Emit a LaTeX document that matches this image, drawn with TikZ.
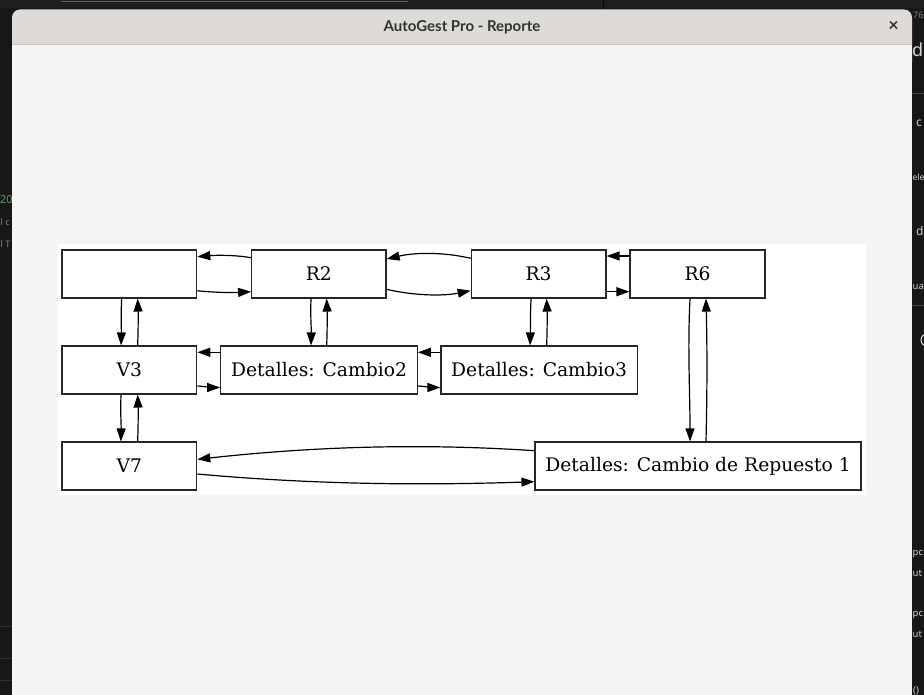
\documentclass[tikz,border=0pt]{standalone}
\usepackage{fontspec}
\setmainfont{DejaVu Serif}
\newfontfamily\uifont{Noto Sans}
\newfontfamily\titlefont{Lato}
\usetikzlibrary{arrows.meta,calc}
\definecolor{desk}{HTML}{171717}
\definecolor{deskbar}{HTML}{1E1E1E}
\definecolor{titlebar}{HTML}{DEDBD7}
\definecolor{winbody}{HTML}{F6F5F4}
\definecolor{sepline}{HTML}{C6C2BD}
\definecolor{titletext}{HTML}{2E3436}
\definecolor{fraggray}{HTML}{CFCFCF}
\definecolor{fraggreen}{HTML}{5A9E6F}
\definecolor{tabblue}{HTML}{1C71D8}
\definecolor{boxline}{HTML}{262626}
\tikzset{
  gvbox/.style={draw=boxline, line width=1.2pt, rectangle, fill=white, minimum height=48pt, inner sep=0pt, font=\fontsize{18.7}{22}\selectfont},
  gvedge/.style={line width=1.2pt, -{Triangle[length=13pt,width=9pt]}},
  frag/.style={inner sep=0pt, anchor=base west, text=fraggray, font=\uifont\fontsize{12}{14}\selectfont},
  smallfrag/.style={frag, font=\uifont\fontsize{9.5}{11}\selectfont},
  greenfrag/.style={inner sep=0pt, anchor=base west, text=fraggreen, font=\uifont\fontsize{11}{13}\selectfont},
}
\begin{document}
\begin{tikzpicture}[x=1pt,y=-1pt]
\useasboundingbox (0,0) rectangle (924,695);
% desktop background
\fill[desk] (0,0) rectangle (924,695);
\fill[deskbar] (0,0) rectangle (924,8);
\draw[tabblue, line width=1pt] (61,1.5) -- (408,1.5);
\draw[black!70!desk, line width=0.8pt] (603,0) -- (603,9);
% desktop text fragments
\node[frag, font=\uifont\fontsize{9}{11}\selectfont, text=gray] (f0) at (913,19) {76};
\node[frag, font=\uifont\bfseries\fontsize{18}{22}\selectfont, text=fraggray!90] (f1) at (912,57) {d};
\draw[white!20!desk, line width=1pt] (912,94) -- (924,94);
\node[frag] (f2) at (916,127) {c};
\node[smallfrag, font=\uifont\fontsize{8.5}{10}\selectfont] (f3) at (912.5,181) {ele};
\node[frag] (f4) at (916,236) {d};
\node[smallfrag] (f5) at (912.5,290) {ua};
\draw[white!20!desk, line width=1pt] (912,305) -- (924,305);
\draw[fraggray!60, line width=1pt] (927,340) circle (6);
\node[smallfrag] (f6) at (912.5,555) {pc};
\node[smallfrag] (f7) at (912.5,576) {ut};
\node[smallfrag] (f8) at (912.5,616) {pc};
\node[smallfrag] (f9) at (912.5,637) {ut};
\node[smallfrag] (f10) at (913,693) {()};
\node[greenfrag] (g1) at (0,204) {20};
\node[greenfrag, font=\uifont\fontsize{9}{11}\selectfont] (g2) at (0.5,226) {l c};
\node[greenfrag, font=\uifont\fontsize{9}{11}\selectfont] (g3) at (0.5,248) {l T};
\draw[white!12!desk, line width=1pt] (0,626) -- (12,626);
\draw[white!12!desk, line width=1pt] (0,658) -- (12,658);
\draw[white!12!desk, line width=1pt] (0,680) -- (12,680);
% window
\fill[titlebar, rounded corners=8pt] (12,70) rectangle (912,9.5);
\fill[winbody] (12,45.5) rectangle (912,700);
\draw[sepline, line width=1pt] (12,45) -- (912,45);
\node[text=titletext, font=\titlefont\bfseries\fontsize{15}{17}\selectfont] (title) at (462,27.5) {AutoGest Pro - Reporte};
\node[text=titletext, font=\titlefont\bfseries\fontsize{18}{18}\selectfont] (close) at (893.5,26.5) {×};
% diagram canvas
\fill[white] (58,244) rectangle (866,495);
% nodes
\node[gvbox, minimum width=134.7pt] (n0) at (129.35,274) {};
\node[gvbox, minimum width=134.3pt] (R2) at (318.85,274) {R2};
\node[gvbox, minimum width=134.7pt] (R3) at (538.65,274) {R3};
\node[gvbox, minimum width=135pt] (R6) at (697.5,274) {R6};
\node[gvbox, minimum width=134.7pt] (V3) at (129.35,370) {V3};
\node[gvbox, minimum width=196.6pt] (C2) at (319,370) {Detalles: Cambio2};
\node[gvbox, minimum width=196.3pt] (C3) at (539.15,370) {Detalles: Cambio3};
\node[gvbox, minimum width=134.7pt] (V7) at (129.35,466) {V7};
\node[gvbox, minimum width=326pt] (CR) at (698,466) {Detalles: Cambio de Repuesto 1};
% edges
\draw[gvedge] ($(R2.west)+(0,-16.3)$) .. controls +(-18,-3) and +(18,-1.5) .. ($(n0.east)+(0,-17.3)$);
\draw[gvedge] ($(n0.east)+(0,16.7)$) .. controls +(18,2) and +(-18,1) .. ($(R2.west)+(0,17.7)$);
\draw[gvedge] ($(R3.west)+(0,-15.7)$) .. controls +(-28,-6.5) and +(28,-6.5) .. ($(R2.east)+(0,-15)$);
\draw[gvedge] ($(R2.east)+(0,15.3)$) .. controls +(28,6.5) and +(-28,5.5) .. ($(R3.west)+(0,16.7)$);
\draw[gvedge] ($(R6.west)+(0,-18)$) -- ($(R3.east)+(0,-18)$);
\draw[gvedge] ($(R3.east)+(0,17.7)$) -- ($(R6.west)+(0,17.7)$);
\draw[gvedge] ($(n0.south)+(-7.7,0)$) .. controls +(-0.8,16) and +(0.4,-16) .. ($(V3.north)+(-8.3,0)$);
\draw[gvedge] ($(V3.north)+(8.3,0)$) .. controls +(0.6,-16) and +(0.6,16) .. ($(n0.south)+(8.3,0)$);
\draw[gvedge] ($(R2.south)+(-7.8,0)$) .. controls +(-0.8,16) and +(0.4,-16) .. ($(C2.north)+(-8,0)$);
\draw[gvedge] ($(C2.north)+(7.7,0)$) .. controls +(0.6,-16) and +(0.6,16) .. ($(R2.south)+(7.8,0)$);
\draw[gvedge] ($(R3.south)+(-7.6,0)$) .. controls +(-0.8,16) and +(0.4,-16) .. ($(C3.north)+(-9.1,0)$);
\draw[gvedge] ($(C3.north)+(7.5,0)$) .. controls +(0.6,-16) and +(0.6,16) .. ($(R3.south)+(8,0)$);
\draw[gvedge] ($(R6.south)+(-7.5,0)$) .. controls +(-2.5,50) and +(0,-50) .. ($(CR.north)+(-8,0)$);
\draw[gvedge] ($(CR.north)+(8,0)$) .. controls +(1.2,-50) and +(1.2,50) .. ($(R6.south)+(8.5,0)$);
\draw[gvedge] ($(V3.south)+(-8.3,0)$) .. controls +(-0.8,16) and +(0.4,-16) .. ($(V7.north)+(-8.5,0)$);
\draw[gvedge] ($(V7.north)+(8.3,0)$) .. controls +(0.6,-16) and +(0.6,16) .. ($(V3.south)+(8.3,0)$);
\draw[gvedge] ($(C2.west)+(0,-17.7)$) -- ($(V3.east)+(0,-17.7)$);
\draw[gvedge] ($(V3.east)+(0,16)$) .. controls +(8,0.5) and +(-8,0) .. ($(C2.west)+(0,17.5)$);
\draw[gvedge] ($(C3.west)+(0,-17.7)$) -- ($(C2.east)+(0,-17.7)$);
\draw[gvedge] ($(C2.east)+(0,16)$) .. controls +(8,0.5) and +(-8,0) .. ($(C3.west)+(0,17.5)$);
\draw[gvedge] ($(CR.west)+(0,-15.3)$) .. controls +(-120,-8) and +(110,-12) .. ($(V7.east)+(0,-6.7)$);
\draw[gvedge] ($(V7.east)+(0,8)$) .. controls +(110,10) and +(-120,4) .. ($(CR.west)+(0,15.7)$);
\end{tikzpicture}
\end{document}
